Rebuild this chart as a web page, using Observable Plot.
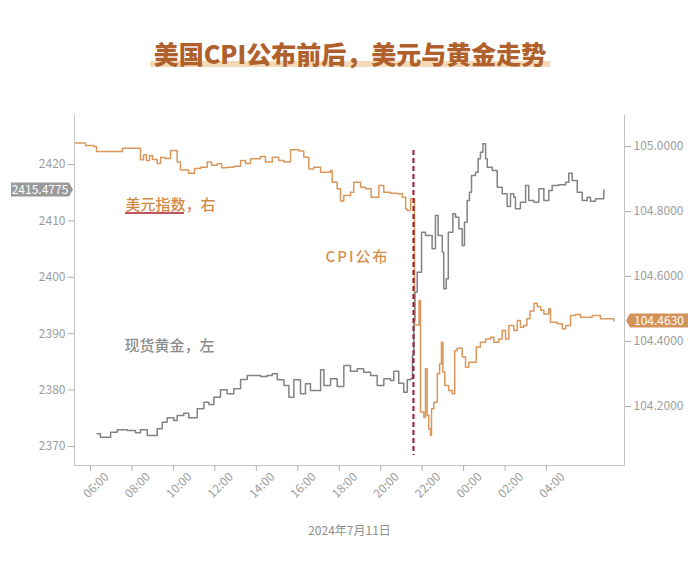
<!DOCTYPE html>
<html><head><meta charset="utf-8">
<script src="https://cdn.jsdelivr.net/npm/d3@7"></script>
<script src="https://cdn.jsdelivr.net/npm/@observablehq/plot@0.6"></script>
<style>
body{margin:0;background:#fff;width:700px;height:573px;position:relative;overflow:hidden;font-family:"Noto Sans CJK SC","Noto Sans",sans-serif;}
#bar{position:absolute;left:150px;top:61px;width:400px;height:6px;background:#f5d8b6;}
#title{position:absolute;left:0;top:39px;width:700px;text-align:center;font-size:25px;line-height:28px;font-weight:900;color:#b0602c;}
#chart{position:absolute;left:0;top:90px;}
</style></head><body>
<div id="bar"></div><div id="title">美国CPI公布前后，美元与黄金走势</div><div id="chart"></div>
<script>
// hours since 2024-07-11 00:00 (values >24 are the next morning)
const goldTime = [6.32,6.48,6.97,7.29,7.77,8.17,8.41,8.74,9.22,9.46,9.70,10.02,10.18,10.50,10.74,11.15,11.47,11.71,11.95,12.27,12.59,12.91,13.24,13.56,13.88,14.20,14.52,14.77,15.01,15.33,15.57,15.81,16.13,16.37,16.61,17.10,17.26,17.58,17.90,18.22,18.54,18.87,19.18,19.51,19.83,20.15,20.47,20.63,20.87,21.11,21.28,21.44,21.53,21.60,21.65,21.76,21.92,21.97,22.16,22.32,22.48,22.64,22.77,22.97,23.04,23.16,23.26,23.48,23.61,23.77,23.93,24.04,24.17,24.28,24.38,24.57,24.70,24.81,24.93,25.06,25.14,25.38,25.62,25.86,26.10,26.26,26.42,26.50,26.74,26.99,27.14,27.39,27.63,27.87,28.11,28.27,28.59,28.92,29.07,29.24,29.48,29.72,29.96,30.12,30.36,30.52,30.76];
const goldPrice = [2372.25,2371.65,2372.54,2372.96,2372.84,2372.43,2372.96,2371.95,2373.14,2374.31,2375.09,2374.61,2375.50,2375.90,2375.09,2376.68,2377.85,2377.45,2378.74,2380.05,2379.34,2380.23,2381.88,2382.59,2382.59,2382.41,2382.59,2382.89,2381.83,2380.82,2378.74,2381.83,2379.34,2381.12,2379.93,2383.60,2380.82,2382.00,2380.64,2384.36,2383.35,2383.78,2383.17,2382.59,2380.82,2382.00,2381.70,2383.35,2381.22,2379.63,2381.83,2382.00,2386.13,2392.34,2397.36,2400.90,2400.90,2408.00,2407.41,2407.41,2405.05,2410.96,2407.41,2404.45,2397.96,2399.73,2408.00,2411.26,2410.66,2408.60,2405.64,2409.77,2413.62,2415.09,2418.05,2418.63,2421.01,2422.18,2423.67,2421.01,2419.52,2418.94,2415.98,2414.80,2412.55,2414.80,2414.20,2412.15,2413.32,2416.28,2413.62,2413.32,2415.69,2413.62,2415.39,2416.28,2416.40,2416.86,2418.46,2417.16,2415.09,2413.62,2414.20,2413.49,2413.92,2413.92,2415.4775];
const usdTime = [5.28,5.76,6.16,6.29,7.53,7.54,8.28,8.41,8.56,8.70,8.85,8.99,9.22,9.38,9.62,9.86,10.18,10.34,10.73,11.02,11.31,11.63,11.84,12.11,12.32,12.59,12.91,13.24,13.48,13.72,14.20,14.44,14.77,15.08,15.33,15.65,16.05,16.29,16.53,16.77,17.10,17.58,17.66,17.90,18.06,18.22,18.54,18.70,19.03,19.27,19.54,19.91,20.15,20.47,20.80,21.04,21.20,21.28,21.44,21.60,21.63,21.81,21.85,21.92,22.08,22.16,22.24,22.32,22.40,22.45,22.56,22.73,22.84,22.93,23.00,23.09,23.28,23.45,23.57,23.69,23.93,24.09,24.25,24.49,24.61,24.81,25.06,25.30,25.46,25.70,25.86,26.02,26.18,26.42,26.59,26.74,26.90,27.05,27.20,27.39,27.55,27.72,27.87,28.11,28.19,28.52,28.76,28.92,29.16,29.40,29.64,30.20,30.60,31.25];
const usdIndex = [105.011,105.003,105.000,104.985,104.985,104.995,104.995,104.959,104.975,104.957,104.972,104.960,104.948,104.966,104.963,104.988,104.952,104.928,104.918,104.932,104.936,104.952,104.942,104.947,104.935,104.936,104.939,104.957,104.948,104.962,104.969,104.952,104.967,104.957,104.952,104.990,104.986,104.967,104.931,104.936,104.921,104.926,104.890,104.870,104.832,104.849,104.859,104.890,104.875,104.870,104.844,104.880,104.859,104.856,104.855,104.844,104.808,104.803,104.839,104.839,104.451,104.451,104.526,104.183,104.167,104.316,104.172,104.131,104.111,104.193,104.213,104.301,104.331,104.398,104.306,104.265,104.249,104.239,104.372,104.379,104.352,104.321,104.336,104.336,104.383,104.398,104.408,104.413,104.398,104.408,104.434,104.408,104.449,104.434,104.465,104.444,104.449,104.470,104.494,104.518,104.508,104.496,104.485,104.501,104.459,104.455,104.439,104.449,104.480,104.483,104.475,104.480,104.470,104.463];

const xTicks = [6,8,10,12,14,16,18,20,22,24,26,28];
const goldTicks = [2370,2380,2390,2400,2410,2420];
const usdTicks = [104.2,104.4,104.6,104.8,105.0];
const cpiTime = [21.58];
const cpiLabel = "CPI公布";
const goldLabel = "现货黄金，左";
const usdLabel = "美元指数，右";
const dateLabel = "2024年7月11日";
const goldLast = "2415.4775";
const usdLast = "104.4630";

const xDomain = [5.228, 31.76];
const gDom = [2366.63, 2428.69];
const dDom = [104.0185, 105.0954];
const toG = d => gDom[0] + (d - dDom[0]) / (dDom[1] - dDom[0]) * (gDom[1] - gDom[0]);
const fromG = g => dDom[0] + (g - gDom[0]) / (gDom[1] - gDom[0]) * (dDom[1] - dDom[0]);

const gold = goldTime.map((t, i) => ({t, v: goldPrice[i]}));
const usd = usdTime.map((t, i) => ({t, v: toG(usdIndex[i])}));
const fmtHour = h => String(h % 24).padStart(2, "0") + ":00";

const usdAnno = {t: 7.69, v: 2412.73, text: usdLabel};
const goldAnno = {t: 7.64, v: 2387.73, text: goldLabel};
const cpiAnno = {t: 18.88, v: 2403.5, text: cpiLabel};

const GRAY = "#9d9d9d";

function tag(value, side, fill, label) {
  return (index, scales, values, dims) => {
    const y = scales.y(value);
    const g = d3.create("svg:g");
    const w = 58, h = 14, a = 4;
    let d, tx;
    if (side === "left") {
      const xe = dims.marginLeft - 1;
      d = `M${xe},${y}L${xe-a},${y-h/2}L${xe-a-w},${y-h/2}L${xe-a-w},${y+h/2}L${xe-a},${y+h/2}Z`;
      tx = xe - a - w / 2;
    } else {
      const xs = dims.width - dims.marginRight + 2;
      d = `M${xs},${y}L${xs+a},${y-h/2}L${xs+a+w},${y-h/2}L${xs+a+w},${y+h/2}L${xs+a},${y+h/2}Z`;
      tx = xs + a + w / 2;
    }
    g.append("path").attr("d", d).attr("fill", fill);
    g.append("text").attr("x", tx).attr("y", y).attr("dy", "0.36em")
      .attr("text-anchor", "middle").attr("fill", "#fff").attr("font-size", 12).text(label);
    return g.node();
  };
}

function underline(index, scales) {
  const x = scales.x(usdAnno.t), y = scales.y(usdAnno.v);
  const g = d3.create("svg:g");
  g.append("line").attr("x1", x).attr("x2", x + 4 * 15 - 1).attr("y1", y + 8).attr("y2", y + 8)
    .attr("stroke", "#a81c2c").attr("stroke-width", 1.6);
  return g.node();
}

const chart = Plot.plot({
  width: 700,
  height: 483,
  marginTop: 25,
  marginBottom: 108,
  marginLeft: 74,
  marginRight: 76,
  style: {fontFamily: "'Noto Sans CJK SC','Noto Sans',sans-serif", fontSize: "12px", color: GRAY, background: "#fff"},
  x: {domain: xDomain, axis: null},
  y: {domain: gDom, axis: null},
  marks: [
    Plot.frame({anchor: "left", stroke: "#c4c4c4"}),
    Plot.frame({anchor: "right", stroke: "#c4c4c4"}),
    Plot.frame({anchor: "bottom", stroke: "#c4c4c4"}),
    Plot.axisY(goldTicks, {anchor: "left", label: null, tickSize: 6, tickPadding: 3, stroke: "#b0b0b0", fill: GRAY, fontSize: 12, tickFormat: d => String(d)}),
    Plot.axisY(usdTicks.map(toG), {anchor: "right", label: null, tickSize: 6, tickPadding: 3, stroke: "#b0b0b0", fill: GRAY, fontSize: 12, tickFormat: g => fromG(g).toFixed(4)}),
    Plot.axisX(xTicks, {anchor: "bottom", label: null, tickSize: 6, stroke: "#b0b0b0", tickFormat: () => ""}),
    Plot.text(xTicks, {x: d => d, frameAnchor: "bottom", text: fmtHour, rotate: -45, textAnchor: "end", dx: 19, dy: 12, fill: GRAY, fontSize: 12}),
    Plot.line(usd, {x: "t", y: "v", stroke: "#d9975c", strokeWidth: 1.5, curve: "step-after"}),
    Plot.line(gold, {x: "t", y: "v", stroke: "#838383", strokeWidth: 1.5, curve: "step-after"}),
    Plot.ruleX(cpiTime, {stroke: "#a3172b", strokeWidth: 2, strokeDasharray: "5,3", insetTop: 35, insetBottom: 10}),
    Plot.text([usdAnno], {x: "t", y: "v", text: "text", fill: "#d08a48", textAnchor: "start", fontSize: 15, fontWeight: 500}),
    Plot.text([goldAnno], {x: "t", y: "v", text: "text", fill: "#8e8e8e", textAnchor: "start", fontSize: 15, fontWeight: 500}),
    Plot.text([cpiAnno], {x: "t", y: "v", text: "text", fill: "#d4924f", textAnchor: "middle", fontSize: 15, fontWeight: 500}),
    underline,
    tag(goldPrice[goldPrice.length - 1], "left", "#9a9a9a", goldLast),
    tag(toG(usdIndex[usdIndex.length - 1]), "right", "#d4935a", usdLast),
    Plot.text([dateLabel], {frameAnchor: "bottom", dy: 69, fill: "#8f8f8f", fontSize: 12})
  ]
});
chart.querySelectorAll("text").forEach(t => { if (t.textContent === cpiLabel) t.setAttribute("letter-spacing", "2"); });
document.getElementById("chart").appendChild(chart);
</script></body></html>
